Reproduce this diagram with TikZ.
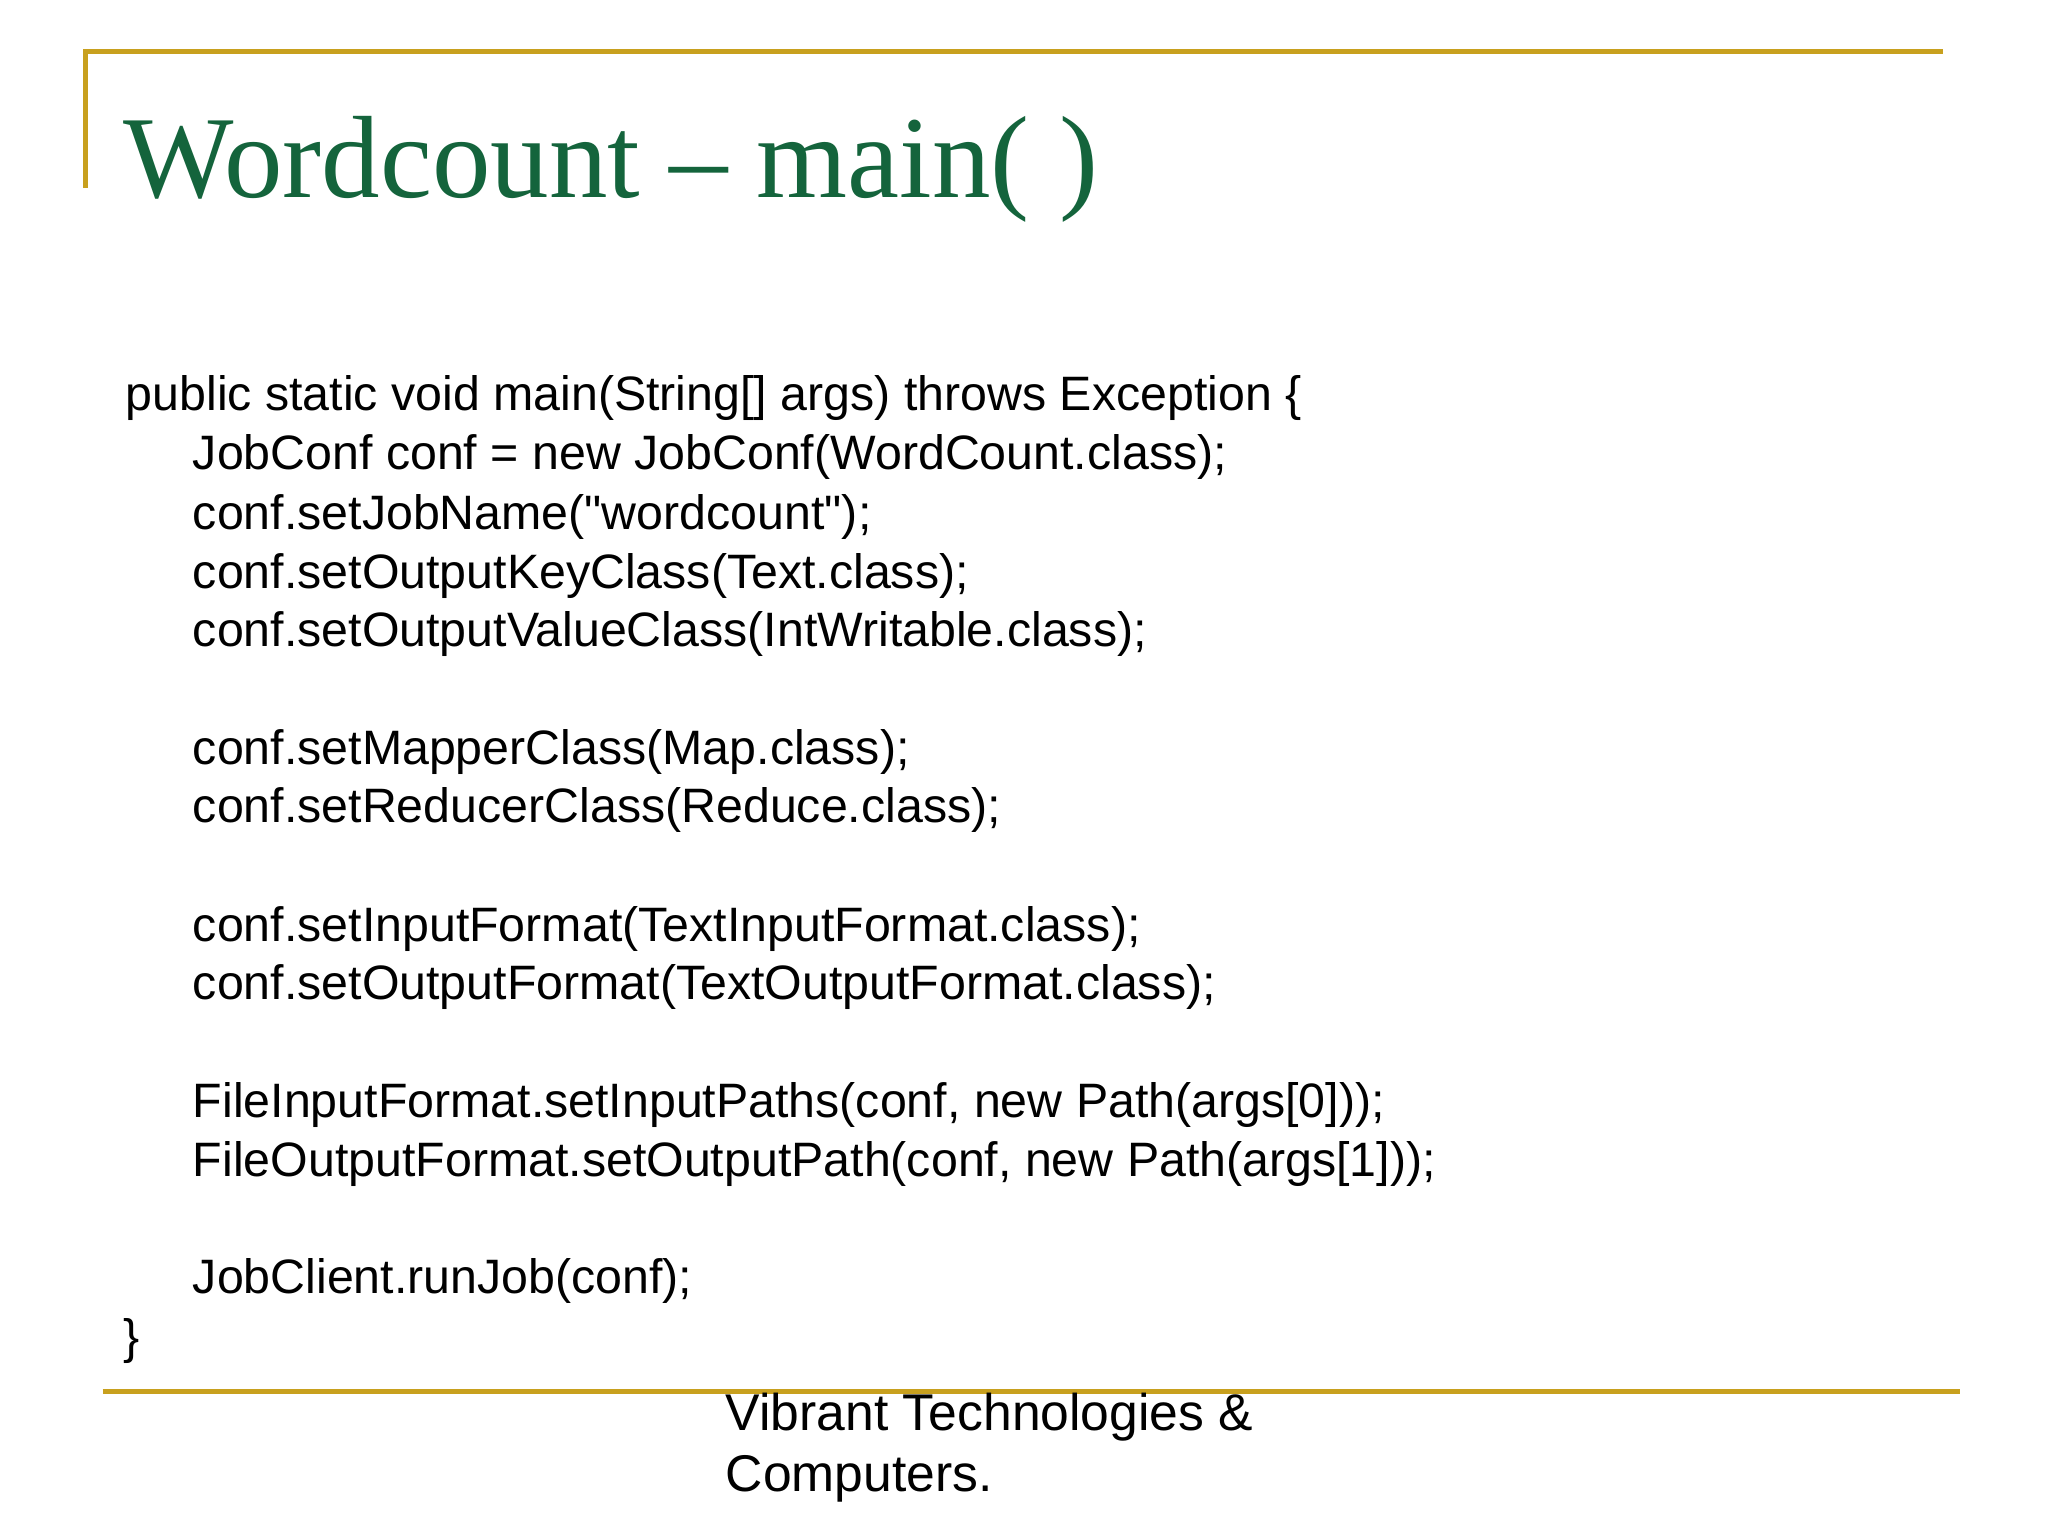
\documentclass[tikz,border=0pt]{standalone}
\usepackage{fontspec}
\setmainfont{Liberation Sans}
\newfontfamily\codefont{Liberation Sans}
\newfontfamily\titlefont{Liberation Serif}
\definecolor{gold}{RGB}{200,160,30}
\definecolor{titlegreen}{RGB}{20,100,60}
\begin{document}
\begin{tikzpicture}[x=0.013162cm,y=-0.013162cm,
  code/.style={anchor=base west,inner sep=0pt,font=\codefont\fontsize{13.75pt}{16pt}\selectfont},
  foot/.style={anchor=base west,inner sep=0pt,font=\codefont\fontsize{14.7pt}{17pt}\selectfont},
  rule/.style={draw=gold,line width=1.3pt}]
\useasboundingbox (0,0) rectangle (1556,1167);
\coordinate (tl) at (65,143); \coordinate (tc) at (65,39); \coordinate (tr) at (1476,39);
\draw[rule] (tl) -- (tc) -- (tr);
\coordinate (bl) at (78,1057); \coordinate (br) at (1489,1057);
\draw[rule] (bl) -- (br);
\node[anchor=base west,inner sep=0pt,text=titlegreen,font=\titlefont\fontsize{33.3pt}{38pt}\selectfont] (title) at (93,150) {Wordcount – main( )};
\node[code] (l0) at (95,312) {public static void main(String[] args) throws Exception \{};
\node[code] (l1) at (146,357) {JobConf conf = new JobConf(WordCount.class);};
\node[code] (l2) at (146,402) {conf.setJobName("wordcount");};
\node[code] (l3) at (146,447) {conf.setOutputKeyClass(Text.class);};
\node[code] (l4) at (146,491) {conf.setOutputValueClass(IntWritable.class);};
\node[code] (l5) at (146,581) {conf.setMapperClass(Map.class);};
\node[code] (l6) at (146,625) {conf.setReducerClass(Reduce.class);};
\node[code] (l7) at (146,715) {conf.setInputFormat(TextInputFormat.class);};
\node[code] (l8) at (146,759) {conf.setOutputFormat(TextOutputFormat.class);};
\node[code] (l9) at (146,849) {FileInputFormat.setInputPaths(conf, new Path(args[0]));};
\node[code] (l10) at (146,894) {FileOutputFormat.setOutputPath(conf, new Path(args[1]));};
\node[code] (l11) at (146,983) {JobClient.runJob(conf);};
\node[code] (l12) at (93,1028) {\}};
\node[foot] (f1) at (551,1087) {Vibrant Technologies \&};
\node[foot] (f2) at (551,1133) {Computers.};
\end{tikzpicture}
\end{document}
